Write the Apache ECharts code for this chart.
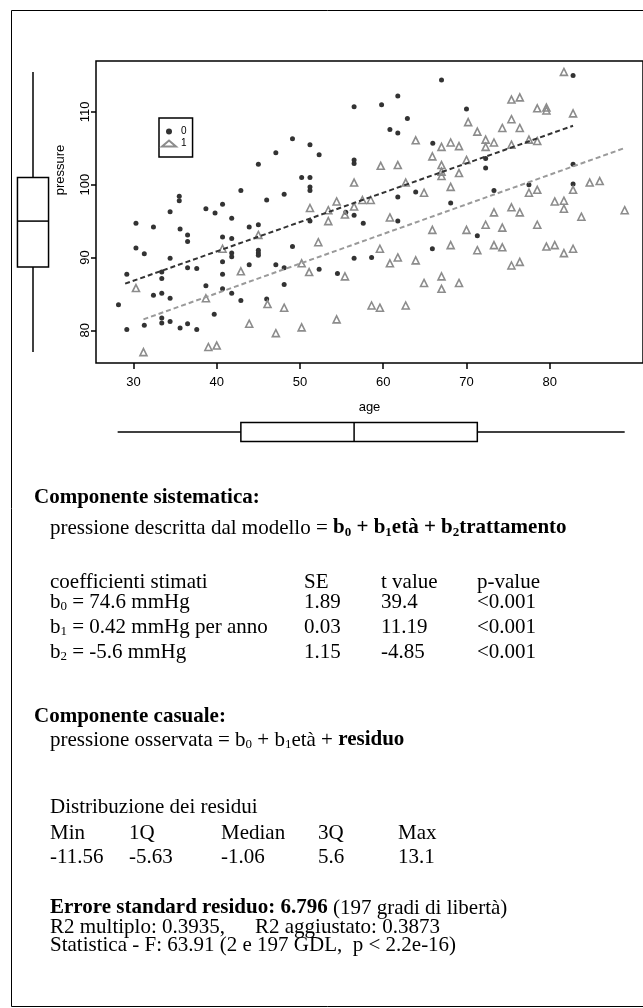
<!DOCTYPE html>
<html>
<head>
<meta charset="utf-8">
<title>pressure ~ age + trattamento</title>
<script src="https://cdn.jsdelivr.net/npm/echarts@6/dist/echarts.min.js"></script>
<style>
    html, body { margin: 0; padding: 0; background: #fff; }
    #chart { width: 643px; height: 1008px; }
</style>
</head>
<body>
<div id="chart"></div>
<script>
    // gruppo 0 (punti scuri)
    var age0 = [47.1, 45.0, 42.9, 46.0, 35.5, 35.5, 40.7,
        67.0, 61.75, 59.8, 56.5, 70.0, 62.9, 60.8, 61.75, 49.1, 51.2, 52.3, 56.5, 56.5, 65.95, 50.2, 51.2, 51.2, 51.2, 48.1, 63.9, 61.75, 68.1,
        82.8, 72.3, 72.3, 82.8, 77.5, 73.3, 82.8,
        34.4, 38.7, 39.8, 30.3, 32.4, 41.8, 35.6, 36.5, 36.5, 30.3, 31.3, 34.4, 40.7, 41.8, 43.9, 45.0, 47.1, 45.0, 45.0, 45.0, 41.8, 41.8,
        40.7, 43.9, 36.5, 37.6, 29.2, 33.4, 33.4, 40.7, 38.7, 40.7, 41.8, 32.4, 33.4, 34.4, 28.2, 42.9, 46.0, 39.7, 33.4, 33.4, 34.4, 31.3,
        35.6, 36.5, 37.6, 29.2,
        51.2, 55.5, 56.5, 57.6, 61.75, 49.1, 56.5, 58.6, 65.9, 48.1, 52.3, 54.5, 48.1,
        71.3];
    var pres0 = [104.4, 102.8, 99.2, 97.9, 98.4, 97.8, 97.3,
        114.4, 112.2, 111.0, 110.7, 110.4, 109.1, 107.6, 107.1, 106.3, 105.5, 104.1, 103.4, 102.9, 105.7, 101.0, 101.0, 99.7, 99.2, 98.7, 99.0, 98.3, 97.5,
        115.0, 103.6, 102.3, 102.8, 100.0, 99.2, 100.1,
        96.3, 96.7, 96.1, 94.7, 94.2, 95.4, 93.9, 93.1, 92.2, 91.3, 90.5, 89.9, 92.8, 92.6, 94.2, 94.5, 89.0, 91.0, 90.6, 90.3, 90.6, 90.1,
        89.4, 89.0, 88.6, 88.5, 87.7, 88.0, 87.1, 87.7, 86.1, 85.7, 85.1, 84.8, 85.1, 84.4, 83.5, 84.1, 84.3, 82.2, 81.7, 81.0, 81.2, 80.7,
        80.3, 80.9, 80.1, 80.1,
        95.0, 96.2, 95.8, 94.7, 95.0, 91.5, 89.9, 90.0, 91.2, 88.6, 88.4, 87.8, 86.3,
        93.0];

    // gruppo 1 (triangoli grigi)
    var age1 = [63.9, 67.0, 68.1, 69.1, 65.9, 59.7, 61.75, 67.0, 67.0, 67.0, 69.1, 56.5, 62.7, 68.1, 64.9, 54.4, 57.5, 58.5, 70.0,
        81.7, 75.4, 76.4, 78.5, 79.6, 79.6, 82.8, 70.2, 75.4, 71.3, 74.3, 76.4, 72.3, 72.3, 73.3, 75.4, 77.5, 78.5, 77.5, 78.5, 82.8,
        84.8, 86.0, 80.6, 81.7,
        45.0, 40.7, 42.9, 30.3, 38.7, 46.1, 43.9, 47.1, 31.2, 39.0, 40.0,
        51.2, 53.4, 55.4, 56.5, 53.4, 60.8, 65.9, 70.0, 52.2, 59.6, 68.1, 61.75, 60.8, 63.9, 50.2, 51.1, 55.4, 67.0, 64.9, 67.0, 69.1,
        48.1, 58.6, 59.6, 62.7, 54.4, 50.2,
        81.7, 73.3, 75.4, 76.4, 83.8, 89.0, 72.3, 74.3, 78.5, 73.3, 74.3, 71.3, 79.6, 80.6, 81.7, 82.8, 75.4, 76.4];
    var pres1 = [106.1, 105.2, 105.8, 105.3, 103.9, 102.6, 102.7, 102.7, 101.8, 101.2, 101.6, 100.3, 100.3, 99.7, 98.9, 97.7, 97.9, 97.9, 103.4,
        115.5, 111.7, 112.0, 110.5, 110.6, 110.2, 109.8, 108.6, 109.0, 107.3, 107.8, 107.8, 106.2, 105.2, 105.8, 105.5, 106.2, 106.0, 98.9, 99.3, 99.3,
        100.3, 100.5, 97.7, 97.8,
        93.1, 91.2, 88.1, 85.8, 84.4, 83.6, 80.9, 79.6, 77.0, 77.7, 77.9,
        96.8, 96.5, 95.9, 97.0, 95.0, 95.5, 93.8, 93.8, 92.1, 91.2, 91.7, 90.0, 89.2, 89.6, 89.2, 88.0, 87.4, 87.4, 86.5, 85.7, 86.5,
        83.1, 83.4, 83.1, 83.4, 81.5, 80.4,
        96.7, 96.2, 96.9, 96.2, 95.6, 96.5, 94.5, 94.1, 94.5, 91.7, 91.4, 91.0, 91.5, 91.7, 90.6, 91.2, 88.9, 89.4];

    // rette stimate per gruppo (estremi)
    var fitAge0 = [29.0, 82.8];
    var fitPres0 = [86.4, 108.1];
    var fitAge1 = [31.2, 88.9];
    var fitPres1 = [81.5, 105.0];

    // boxplot marginali: min, Q1, mediana, Q3, max
    var ageBox = [28.1, 42.9, 56.5, 71.3, 89.0];
    var presBox = [77.0, 88.7, 95.0, 101.0, 115.5];

    var ageTicks = [30, 40, 50, 60, 70, 80];
    var presTicks = [80, 90, 100, 110];
    var groupNames = ['0', '1'];

    // testo del modello
    var coefHeader = ['coefficienti stimati', 'SE', 't value', 'p-value'];
    var coefNames = ['b{s|0} = 74.6 mmHg', 'b{s|1} = 0.42 mmHg per anno', 'b{s|2} = -5.6 mmHg'];
    var coefSE = ['1.89', '0.03', '1.15'];
    var coefT = ['39.4', '11.19', '-4.85'];
    var coefP = ['<0.001', '<0.001', '<0.001'];
    var residLabels = ['Min', '1Q', 'Median', '3Q', 'Max'];
    var residValues = ['-11.56', '-5.63', '-1.06', '5.6', '13.1'];

    var SERIF = 'Liberation Serif';
    var SANS = 'Liberation Sans';
    var FS = 21;

    // pedici abbassati con padding superiore
    var rich = {
        s: {fontSize: 13, fontFamily: SERIF, lineHeight: 13, padding: [10, 0, 0, 0], fill: '#000'},
        b: {fontSize: FS, fontFamily: SERIF, fontWeight: 'bold', lineHeight: 22, fill: '#000'},
        bs: {fontSize: 13, fontFamily: SERIF, fontWeight: 'bold', lineHeight: 13, padding: [10, 0, 0, 0], fill: '#000'}
    };

    function txt(x, y, s, bold) {
        return {
            type: 'text', silent: true,
            style: {
                text: s, x: x, y: y,
                fontSize: FS, fontFamily: SERIF, fontWeight: bold ? 'bold' : 'normal',
                lineHeight: 22, fill: '#000',
                align: 'left', textAlign: 'left',
                verticalAlign: 'middle', textVerticalAlign: 'middle',
                rich: rich
            }
        };
    }

    var X0 = 50, XH = 34;
    var colX = [X0, 304, 381, 477];
    var residX = [X0, 129, 221, 318, 398];

    var graphics = [];
    // cornice esterna
    graphics.push({type: 'rect', silent: true, shape: {x: 11.5, y: 10.5, width: 634, height: 996},
        style: {fill: 'none', stroke: '#000', lineWidth: 1}});
    // etichetta asse y
    graphics.push({type: 'text', silent: true, x: 60, y: 170, rotation: Math.PI / 2,
        style: {text: 'pressure', fontSize: 13, fontFamily: SANS, fill: '#000',
            align: 'center', textAlign: 'center', verticalAlign: 'middle', textVerticalAlign: 'middle'}});

    graphics.push(txt(XH, 498, 'Componente sistematica:', true));
    graphics.push(txt(X0, 528, 'pressione descritta dal modello = {b|b}{bs|0}{b| + b}{bs|1}{b|età + b}{bs|2}{b|trattamento}'));

    for (var c = 0; c < coefHeader.length; c++) graphics.push(txt(colX[c], 582, coefHeader[c]));
    for (var r = 0; r < coefNames.length; r++) {
        var yy = 602 + r * 25;
        graphics.push(txt(colX[0], yy, coefNames[r]));
        graphics.push(txt(colX[1], yy, coefSE[r]));
        graphics.push(txt(colX[2], yy, coefT[r]));
        graphics.push(txt(colX[3], yy, coefP[r]));
    }

    graphics.push(txt(XH, 717, 'Componente casuale:', true));
    graphics.push(txt(X0, 740, 'pressione osservata = b{s|0} + b{s|1}età + {b|residuo}'));
    graphics.push(txt(X0, 807, 'Distribuzione dei residui'));
    for (var k = 0; k < residLabels.length; k++) {
        graphics.push(txt(residX[k], 833, residLabels[k]));
        graphics.push(txt(residX[k], 857, residValues[k]));
    }
    graphics.push(txt(X0, 908, '{b|Errore standard residuo: 6.796} (197 gradi di libertà)'));
    graphics.push(txt(X0, 927, 'R2 multiplo: 0.3935,'));
    graphics.push(txt(255, 927, 'R2 aggiustato: 0.3873'));
    graphics.push(txt(X0, 945, 'Statistica - F: 63.91 (2 e 197 GDL,  p < 2.2e-16)'));

    function pairs(xs, ys) {
        var out = [];
        for (var i = 0; i < xs.length; i++) out.push([xs[i], ys[i]]);
        return out;
    }

    var boxStyle = {stroke: '#000', lineWidth: 1.5, fill: 'none'};

    // boxplot verticale (pressure)
    function boxVertical(params, api) {
        var x = api.value(0);
        var lo = api.coord([x, api.value(1)]), q1 = api.coord([x, api.value(2)]), md = api.coord([x, api.value(3)]),
            q3 = api.coord([x, api.value(4)]), hi = api.coord([x, api.value(5)]);
        var hw = api.size([1, 0])[0] * 0.37;
        return {
            type: 'group', children: [
                {type: 'line', shape: {x1: lo[0], y1: lo[1], x2: q1[0], y2: q1[1]}, style: boxStyle},
                {type: 'rect', shape: {x: q3[0] - hw, y: q3[1], width: 2 * hw, height: q1[1] - q3[1]}, style: boxStyle},
                {type: 'line', shape: {x1: md[0] - hw, y1: md[1], x2: md[0] + hw, y2: md[1]}, style: boxStyle},
                {type: 'line', shape: {x1: q3[0], y1: q3[1], x2: hi[0], y2: hi[1]}, style: boxStyle}
            ]
        };
    }

    // boxplot orizzontale (age)
    function boxHorizontal(params, api) {
        var y = api.value(5);
        var lo = api.coord([api.value(0), y]), q1 = api.coord([api.value(1), y]), md = api.coord([api.value(2), y]),
            q3 = api.coord([api.value(3), y]), hi = api.coord([api.value(4), y]);
        var hh = api.size([0, 1])[1] * 0.4;
        return {
            type: 'group', children: [
                {type: 'line', shape: {x1: lo[0], y1: lo[1], x2: q1[0], y2: q1[1]}, style: boxStyle},
                {type: 'rect', shape: {x: q1[0], y: q1[1] - hh, width: q3[0] - q1[0], height: 2 * hh}, style: boxStyle},
                {type: 'line', shape: {x1: md[0], y1: md[1] - hh, x2: md[0], y2: md[1] + hh}, style: boxStyle},
                {type: 'line', shape: {x1: q3[0], y1: q3[1], x2: hi[0], y2: hi[1]}, style: boxStyle}
            ]
        };
    }

    var hidden = {show: false};
    var myChart = echarts.init(document.getElementById('chart'), null, {renderer: 'canvas'});

    var option = {
        animation: false,
        backgroundColor: '#fff',
        grid: [
            {left: 96, top: 61, width: 552, height: 302, show: true, borderColor: '#000', borderWidth: 1.5, backgroundColor: 'transparent'},
            {left: 12, top: 61, width: 42, height: 302},
            {left: 96, top: 420, width: 552, height: 24}
        ],
        xAxis: [
            {
                type: 'value', gridIndex: 0, min: 25.5, max: 91.2,
                splitLine: hidden, axisLine: hidden,
                axisTick: {show: true, length: 6, customValues: ageTicks, lineStyle: {color: '#000', width: 1.5}},
                axisLabel: {customValues: ageTicks, fontSize: 13, fontFamily: SANS, color: '#000', margin: 13},
                name: 'age', nameLocation: 'middle', nameGap: 38,
                nameTextStyle: {fontSize: 13, fontFamily: SANS, color: '#000'}
            },
            {type: 'value', gridIndex: 1, min: 0, max: 1, show: false},
            {type: 'value', gridIndex: 2, min: 25.5, max: 91.2, show: false}
        ],
        yAxis: [
            {
                type: 'value', gridIndex: 0, min: 75.5, max: 117,
                splitLine: hidden, axisLine: hidden,
                axisTick: {show: true, length: 5, customValues: presTicks, lineStyle: {color: '#000', width: 1.5}},
                axisLabel: {customValues: presTicks, fontSize: 13, fontFamily: SANS, color: '#000', margin: 4, rotate: 90}
            },
            {type: 'value', gridIndex: 1, min: 75.5, max: 117, show: false},
            {type: 'value', gridIndex: 2, min: 0, max: 1, show: false}
        ],
        legend: {
            data: groupNames,
            left: 159, top: 118, orient: 'vertical',
            itemWidth: 14, itemHeight: 6, itemGap: 1,
            padding: [8, 6, 8, 2],
            borderColor: '#000', borderWidth: 1.5, borderRadius: 0,
            textStyle: {fontSize: 10, lineHeight: 11, fontFamily: SANS, color: '#000'},
            selectedMode: false
        },
        graphic: {elements: graphics},
        series: [
            {
                name: groupNames[0], type: 'scatter', xAxisIndex: 0, yAxisIndex: 0,
                symbol: 'circle', symbolSize: 5,
                itemStyle: {color: '#333', opacity: 1},
                data: pairs(age0, pres0)
            },
            {
                name: groupNames[1], type: 'scatter', xAxisIndex: 0, yAxisIndex: 0,
                symbol: 'triangle', symbolSize: 7,
                itemStyle: {color: 'rgba(255,255,255,0)', borderColor: '#8c8c8c', borderWidth: 1.6, opacity: 1},
                data: pairs(age1, pres1)
            },
            {
                type: 'line', xAxisIndex: 0, yAxisIndex: 0, symbol: 'none', silent: true,
                lineStyle: {color: '#333', width: 2, type: [5, 3]},
                data: pairs(fitAge0, fitPres0)
            },
            {
                type: 'line', xAxisIndex: 0, yAxisIndex: 0, symbol: 'none', silent: true,
                lineStyle: {color: '#9a9a9a', width: 2, type: [5, 3]},
                data: pairs(fitAge1, fitPres1)
            },
            {
                type: 'custom', xAxisIndex: 1, yAxisIndex: 1, silent: true,
                renderItem: boxVertical,
                encode: {x: 0, y: [1, 2, 3, 4, 5]},
                data: [[0.5].concat(presBox)]
            },
            {
                type: 'custom', xAxisIndex: 2, yAxisIndex: 2, silent: true,
                renderItem: boxHorizontal,
                encode: {x: [0, 1, 2, 3, 4], y: 5},
                data: [ageBox.concat([0.5])]
            }
        ]
    };

    myChart.setOption(option);
</script>
</body>
</html>
